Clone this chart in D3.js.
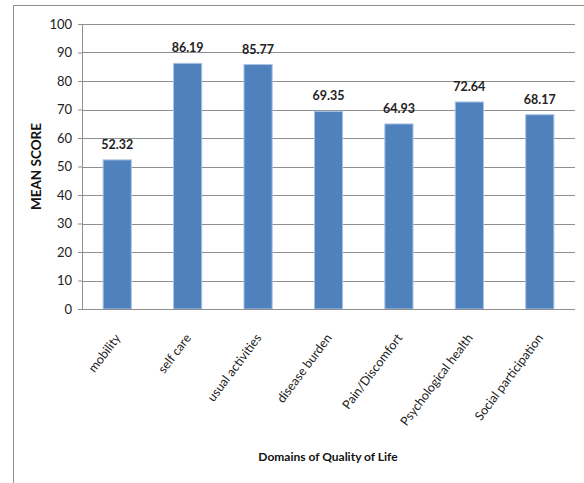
<!DOCTYPE html>
<html>
<head>
<meta charset="utf-8">
<script src="https://cdn.jsdelivr.net/npm/d3@7"></script>
<style>
body { margin: 0; background: #fff; }
</style>
</head>
<body>
<script>
// data
var domains = ["mobility", "self care", "usual activities", "disease burden", "Pain/Discomfort", "Psychological health", "Social participation"];
var scores = [52.32, 86.19, 85.77, 69.35, 64.93, 72.64, 68.17];
var yTicks = [0, 10, 20, 30, 40, 50, 60, 70, 80, 90, 100];

var font = "Lato, 'Liberation Sans', Arial, sans-serif";

var margin = {left: 82, top: 24, right: 9, bottom: 174};
var width = 584 - margin.left - margin.right;
var height = 483 - margin.top - margin.bottom;

var svg = d3.select("body").append("svg")
    .attr("width", 584)
    .attr("height", 483);

// outer frame
svg.append("rect")
    .attr("x", 13.5).attr("y", 5.5)
    .attr("width", 600).attr("height", 500)
    .attr("fill", "none")
    .attr("stroke", "#8c8c8c")
    .attr("stroke-width", 1);

var g = svg.append("g")
    .attr("transform", "translate(" + margin.left + "," + margin.top + ")");

var x = d3.scaleBand()
    .domain(domains)
    .range([0, width])
    .paddingInner(0.6)
    .paddingOuter(0.3);

var y = d3.scaleLinear()
    .domain([0, 100])
    .range([height, 0]);

// gridlines
g.selectAll(".grid")
    .data(yTicks.slice(1))
    .enter().append("line")
    .attr("x1", 0).attr("x2", width)
    .attr("y1", function(d) { return Math.round(y(d)) + 0.5; })
    .attr("y2", function(d) { return Math.round(y(d)) + 0.5; })
    .attr("stroke", "#8f8f8f")
    .attr("stroke-width", 1);

// y axis
var yAxis = g.append("g")
    .call(d3.axisLeft(y).tickValues(yTicks).tickSize(4).tickPadding(6));
yAxis.select(".domain").attr("stroke", "#8f8f8f");
yAxis.selectAll(".tick line").attr("stroke", "#8f8f8f");
yAxis.selectAll("text")
    .style("font-family", font)
    .style("font-size", "13px")
    .attr("fill", "#222");

// bars
g.selectAll(".bar")
    .data(scores)
    .enter().append("rect")
    .attr("x", function(d, i) { return x(domains[i]); })
    .attr("y", function(d) { return y(d); })
    .attr("width", x.bandwidth())
    .attr("height", function(d) { return height - y(d); })
    .attr("fill", "#4f81bd")
    .attr("stroke", "#a9c2e4")
    .attr("stroke-width", 1);

// x axis line
g.append("line")
    .attr("x1", 0).attr("x2", width)
    .attr("y1", height + 0.5).attr("y2", height + 0.5)
    .attr("stroke", "#8f8f8f");

// value labels
g.selectAll(".val")
    .data(scores)
    .enter().append("text")
    .attr("x", function(d, i) { return x(domains[i]) + x.bandwidth() / 2; })
    .attr("y", function(d) { return y(d) - 11; })
    .attr("text-anchor", "middle")
    .style("font-family", font)
    .style("font-size", "12.5px")
    .style("font-weight", "bold")
    .attr("fill", "#222")
    .text(function(d) { return d.toFixed(2); });

// category labels
g.selectAll(".cat")
    .data(domains)
    .enter().append("text")
    .attr("transform", function(d) {
        return "translate(" + (x(d) + x.bandwidth() / 2 + 4) + "," + (height + 29) + ") rotate(-53)";
    })
    .attr("text-anchor", "end")
    .style("font-family", font)
    .style("font-size", "12.5px")
    .attr("fill", "#222")
    .text(function(d) { return d; });

// axis titles
svg.append("text")
    .attr("x", 328).attr("y", 461)
    .attr("text-anchor", "middle")
    .style("font-family", font)
    .style("font-size", "12px")
    .style("font-weight", "bold")
    .attr("fill", "#111")
    .text("Domains of Quality of Life");

svg.append("text")
    .attr("transform", "translate(41," + (margin.top + height / 2) + ") rotate(-90)")
    .attr("text-anchor", "middle")
    .style("font-family", font)
    .style("font-size", "13.5px")
    .style("font-weight", "bold")
    .attr("fill", "#111")
    .text("MEAN SCORE");
</script>
</body>
</html>
